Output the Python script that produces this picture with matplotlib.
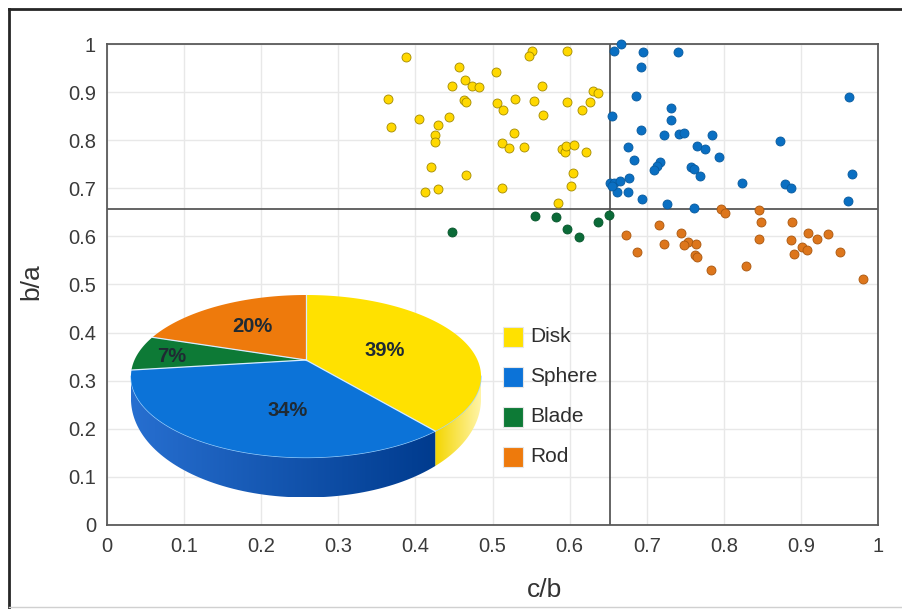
"""Particle shape scatter (c/b vs b/a) with a 3D-looking pie of class shares."""

from __future__ import annotations

import numpy as np
import matplotlib

matplotlib.use("Agg")
import matplotlib.pyplot as plt
from matplotlib.colors import LinearSegmentedColormap
from matplotlib.patches import Polygon, Rectangle
from matplotlib.ticker import FuncFormatter, MultipleLocator


CLASSES = ["Disk", "Sphere", "Blade", "Rod"]
SHARES = [39, 34, 7, 20]  # percent, clockwise from 12 o'clock

# c/b ratio thresholds splitting the four classes
CB_SPLIT = 0.652
BA_SPLIT = 0.658

disk_cb = [0.388, 0.457, 0.505, 0.551, 0.547, 0.597, 0.464, 0.447, 0.473, 0.483,
           0.564, 0.365, 0.463, 0.466, 0.506, 0.529, 0.554, 0.596, 0.514, 0.566,
           0.630, 0.637, 0.626, 0.616, 0.369, 0.405, 0.443, 0.429, 0.426, 0.426,
           0.528, 0.512, 0.521, 0.541, 0.590, 0.594, 0.595, 0.606, 0.621, 0.420,
           0.466, 0.605, 0.413, 0.429, 0.512, 0.602, 0.585]
disk_ba = [0.974, 0.953, 0.942, 0.985, 0.976, 0.986, 0.925, 0.912, 0.912, 0.911,
           0.913, 0.885, 0.884, 0.879, 0.877, 0.885, 0.882, 0.880, 0.862, 0.852,
           0.902, 0.899, 0.880, 0.863, 0.827, 0.845, 0.848, 0.831, 0.810, 0.797,
           0.816, 0.795, 0.784, 0.785, 0.781, 0.775, 0.788, 0.790, 0.776, 0.744,
           0.727, 0.731, 0.692, 0.698, 0.700, 0.704, 0.670]

sphere_cb = [0.667, 0.658, 0.695, 0.741, 0.693, 0.686, 0.963, 0.655, 0.732, 0.731,
             0.692, 0.722, 0.742, 0.749, 0.785, 0.873, 0.676, 0.765, 0.776, 0.794,
             0.684, 0.717, 0.713, 0.710, 0.757, 0.761, 0.769, 0.966, 0.823, 0.880,
             0.887, 0.677, 0.653, 0.658, 0.666, 0.661, 0.676, 0.694, 0.726, 0.761,
             0.961, 0.655]
sphere_ba = [1.000, 0.986, 0.983, 0.983, 0.952, 0.892, 0.889, 0.851, 0.867, 0.842,
             0.822, 0.811, 0.812, 0.816, 0.811, 0.799, 0.786, 0.788, 0.781, 0.766,
             0.758, 0.754, 0.747, 0.739, 0.745, 0.740, 0.725, 0.729, 0.711, 0.709,
             0.700, 0.721, 0.711, 0.710, 0.715, 0.693, 0.692, 0.678, 0.667, 0.660,
             0.674, 0.704]

blade_cb = [0.447, 0.555, 0.582, 0.596, 0.612, 0.637, 0.651]
blade_ba = [0.610, 0.642, 0.641, 0.616, 0.599, 0.629, 0.644]

rod_cb = [0.796, 0.802, 0.846, 0.848, 0.716, 0.673, 0.744, 0.889, 0.909, 0.935,
          0.921, 0.846, 0.887, 0.722, 0.753, 0.749, 0.764, 0.687, 0.762, 0.765,
          0.902, 0.908, 0.891, 0.951, 0.784, 0.829, 0.980]
rod_ba = [0.656, 0.649, 0.654, 0.630, 0.623, 0.603, 0.607, 0.630, 0.608, 0.606,
          0.594, 0.594, 0.592, 0.585, 0.588, 0.582, 0.585, 0.568, 0.561, 0.557,
          0.578, 0.571, 0.564, 0.567, 0.530, 0.539, 0.511]

# style
DOT_FACE = {"Disk": "#FFD800", "Sphere": "#0A6FC2", "Blade": "#0B6B38", "Rod": "#DD761C"}
DOT_EDGE = {"Disk": "#A38A00", "Sphere": "#075A9E", "Blade": "#07552B", "Rod": "#A9570F"}
PIE_TOP = {"Disk": "#FFE100", "Sphere": "#0C73D8", "Blade": "#0D7A36", "Rod": "#EE7A0C"}
PIE_SIDE = {"Disk": ("#F4D600", "#FFF4A8"), "Sphere": ("#276FD0", "#003B8E"),
            "Blade": ("#0A5E2A", "#0A5E2A"), "Rod": ("#B85A08", "#B85A08")}

W, H = 903, 609
# pie layout in pixel coordinates (origin top-left)
PIE_CX, PIE_CY = 306.0, 360.0
PIE_R, PIE_H, PIE_K = 171.5, 78.0, 0.2
LABEL_XY = {"Disk": (385, 350), "Sphere": (288, 410), "Blade": (172, 356), "Rod": (252, 326)}
LEGEND_X, LEGEND_Y0, LEGEND_DY = 503, 337, 40

FONT = ["Liberation Sans", "DejaVu Sans"]


def proj(theta, frac=1.0, bottom=False):
    """Map a disk angle (radians) to pixel coordinates with mild perspective."""
    u = frac * np.cos(theta)
    w = frac * np.sin(theta)
    s = 1.0 / (1.0 + PIE_K * w)
    x = PIE_CX + PIE_R * u * s
    y = PIE_CY - PIE_H * w * s
    if bottom:
        y = y + (18.0 - 22.0 * w)
    return x, y


def draw_pie(pax):
    start = np.pi / 2
    bounds = []
    for name, share in zip(CLASSES, SHARES):
        end = start - share / 100.0 * 2 * np.pi
        bounds.append((name, start, end))
        start = end

    # visible front wall, between the two silhouette angles
    lo, hi = -np.pi + np.arcsin(PIE_K), -np.arcsin(PIE_K)
    for name, a0, a1 in bounds:
        # wrap into (-pi, pi]
        t_hi = np.arctan2(np.sin(a0), np.cos(a0))
        t_lo = t_hi - (a0 - a1)
        seg_lo, seg_hi = max(t_lo, lo), min(t_hi, hi)
        if seg_lo >= seg_hi:
            continue
        th = np.linspace(seg_lo, seg_hi, 80)
        xt, yt = proj(th)
        xb, yb = proj(th, bottom=True)
        pts = np.column_stack([np.r_[xt, xb[::-1]], np.r_[yt, yb[::-1]]])
        poly = Polygon(pts, closed=True, facecolor="none", edgecolor="none", zorder=2)
        pax.add_patch(poly)
        cmap = LinearSegmentedColormap.from_list(name, PIE_SIDE[name])
        grad = np.linspace(0, 1, 256)[None, :]
        im = pax.imshow(grad, cmap=cmap, aspect="auto", zorder=2,
                        extent=(pts[:, 0].min(), pts[:, 0].max(),
                                pts[:, 1].max(), pts[:, 1].min()))
        im.set_clip_path(poly)
        # light rim along the top edge of the wall
        pax.plot(xt, yt, color="#9fd4ff", lw=0.9, zorder=3)

    # top faces
    for name, a0, a1 in bounds:
        th = np.linspace(a0, a1, 120)
        xa, ya = proj(th)
        pts = np.column_stack([np.r_[PIE_CX, xa], np.r_[PIE_CY, ya]])
        pax.add_patch(Polygon(pts, closed=True, facecolor=PIE_TOP[name],
                              edgecolor="none", zorder=4))
    for name, a0, a1 in bounds:
        xe, ye = proj(a0)
        pax.plot([PIE_CX, xe], [PIE_CY, ye], color="#d8ecff", lw=0.9, zorder=5)

    for name, share in zip(CLASSES, SHARES):
        x, y = LABEL_XY[name]
        pax.text(x, y, f"{share}%", ha="center", va="center", fontsize=14.5,
                 fontweight="bold", color="#1f2a33", family=FONT, zorder=6)


def draw_legend(pax):
    for i, name in enumerate(CLASSES):
        cy = LEGEND_Y0 + i * LEGEND_DY
        pax.add_patch(Rectangle((LEGEND_X, cy - 10), 20, 20, facecolor=PIE_TOP[name],
                                edgecolor="#e6e6e6", lw=0.8, zorder=6))
        pax.text(LEGEND_X + 27, cy, name, ha="left", va="center", fontsize=15,
                 color="#2e2e2e", family=FONT, zorder=6)


def main() -> int:
    plt.rcParams["font.family"] = FONT
    fig = plt.figure(figsize=(W / 100, H / 100), dpi=100)
    fig.patch.set_facecolor("white")

    ax = fig.add_axes([107 / W, 84 / H, 771 / W, 481 / H])
    ax.set_xlim(0, 1)
    ax.set_ylim(0, 1)
    ax.xaxis.set_major_locator(MultipleLocator(0.1))
    ax.yaxis.set_major_locator(MultipleLocator(0.1))
    fmt = FuncFormatter(lambda v, _: f"{round(v, 2):g}")
    ax.xaxis.set_major_formatter(fmt)
    ax.yaxis.set_major_formatter(fmt)
    ax.grid(True, color="#e8e8e8", lw=1.0)
    ax.set_axisbelow(True)
    for sp in ax.spines.values():
        sp.set_color("#5a5a5a")
        sp.set_linewidth(1.3)
    ax.tick_params(axis="both", length=0, labelsize=14.5, colors="#3a3a3a")
    ax.tick_params(axis="x", pad=9)
    ax.tick_params(axis="y", pad=8)

    ax.axvline(CB_SPLIT, color="#4a4a4a", lw=1.2, zorder=1.5)
    ax.axhline(BA_SPLIT, color="#4a4a4a", lw=1.2, zorder=1.5)

    series = {
        "Disk": (disk_cb, disk_ba),
        "Sphere": (sphere_cb, sphere_ba),
        "Blade": (blade_cb, blade_ba),
        "Rod": (rod_cb, rod_ba),
    }
    for name, (xs, ys) in series.items():
        ax.scatter(xs, ys, s=42, color=DOT_FACE[name], edgecolors=DOT_EDGE[name],
                   linewidths=0.6, zorder=3, clip_on=False)

    ax.set_xlabel("c/b", fontsize=19, color="#333333")
    ax.set_ylabel("b/a", fontsize=19, color="#333333")
    ax.xaxis.set_label_coords((545 - 107) / 771, (525 - 578) / 481)
    ax.yaxis.set_label_coords((43 - 107) / 771, (525 - 282) / 481)

    # pixel-space overlay for the pie, legend and frame
    pax = fig.add_axes([0, 0, 1, 1])
    pax.axis("off")
    draw_pie(pax)
    draw_legend(pax)
    pax.plot([9, 9], [9, H], color="#262626", lw=2.0, solid_capstyle="projecting")
    pax.plot([9, W], [9, 9], color="#262626", lw=2.0, solid_capstyle="projecting")
    pax.plot([9, W], [607, 607], color="#d0d0d0", lw=1.0)
    pax.set_xlim(0, W)
    pax.set_ylim(H, 0)

    fig.savefig("out.png", dpi=100)
    plt.close(fig)
    return 0


if __name__ == "__main__":
    raise SystemExit(main())
